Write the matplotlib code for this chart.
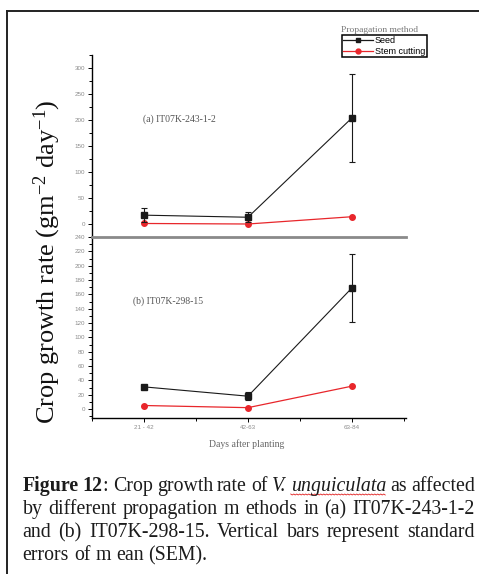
"""Crop growth rate of V. unguiculata by propagation method (Figure 12)."""

import matplotlib

matplotlib.use("Agg")
import matplotlib.pyplot as plt
import numpy as np
from matplotlib.lines import Line2D
from matplotlib.ticker import MultipleLocator

periods = ["21 - 42", "42-63", "63-84"]
methods = ["Seed", "Stem cutting"]

# (a) IT07K-243-1-2
cgr_a_seed = [17, 13, 204]
sem_a_seed = [13, 10, 84]
cgr_a_stem = [1, 0, 14]

# (b) IT07K-298-15
cgr_b_seed = [31, 18, 169]
sem_b_seed = [3, 6, 47]
cgr_b_stem = [5, 2, 32]

caption = [
    "Figure 12: Crop growth rate of V. unguiculata as affected",
    "by different propagation m ethods in (a) IT07K-243-1-2",
    "and (b) IT07K-298-15. Vertical bars represent standard",
    "errors of m ean (SEM).",
]

W, H = 479, 574
SERIF = "Liberation Serif"
SANS = "Liberation Sans"
SEED_C, STEM_C = "#1a1a1a", "#e8262b"
TICK_C = "#8c8c8c"

plt.rcParams.update({
    "font.family": SERIF,
    "mathtext.fontset": "custom",
    "mathtext.rm": SERIF,
    "mathtext.it": SERIF + ":italic",
})

fig = plt.figure(figsize=(W / 100, H / 100), dpi=100)


def fx(px):
    return px / W


def fy(py):
    return 1 - py / H


def panel(rect, seed, sem, stem, ylim, major, minor, tag, tag_xy):
    x0, y_top, x1, y_bot = rect
    ax = fig.add_axes([fx(x0), fy(y_bot), (x1 - x0) / W, (y_bot - y_top) / H])
    x = np.arange(1, len(periods) + 1)
    ax.plot(x, stem, color=STEM_C, lw=0.9, marker="o", ms=4, zorder=2)
    ax.errorbar(x, seed, yerr=sem, color=SEED_C, lw=0.8, marker="s", ms=3.8,
                capsize=2.5, elinewidth=0.8, capthick=0.8, zorder=3)
    ax.set_xlim(0.5, 3.52)
    ax.set_ylim(*ylim)
    ax.yaxis.set_major_locator(MultipleLocator(major))
    ax.yaxis.set_minor_locator(MultipleLocator(minor))
    ax.tick_params(axis="y", which="both", direction="out", width=0.7,
                   labelsize=4.5, labelcolor=TICK_C, pad=2)
    ax.tick_params(axis="y", which="major", length=3)
    ax.tick_params(axis="y", which="minor", length=2)
    for lbl in ax.get_yticklabels():
        lbl.set_family(SANS)
    ax.spines["right"].set_visible(False)
    ax.spines["left"].set_linewidth(1.0)
    ax.patch.set_alpha(0)
    ax.text(*tag_xy, tag, transform=ax.transAxes, fontsize=7, color="#555555",
            va="center", ha="left")
    return ax


ax_a = panel((92, 55, 406, 237), cgr_a_seed, sem_a_seed, cgr_a_stem,
             (-25, 325), 50, 25, "(a) IT07K-243-1-2", (0.162, 0.648))
ax_a.spines["top"].set_visible(False)
ax_a.spines["bottom"].set_visible(False)
ax_a.set_xticks([])

ax_b = panel((92, 237, 406, 417.7), cgr_b_seed, sem_b_seed, cgr_b_stem,
             (-12, 240), 20, 10, "(b) IT07K-298-15", (0.13, 0.642))
ax_b.spines["top"].set_color("#8a8a8a")
ax_b.spines["top"].set_linewidth(2.0)
ax_b.spines["bottom"].set_linewidth(1.0)
ax_b.set_xticks(np.arange(1, len(periods) + 1))
ax_b.set_xticklabels(periods, family=SANS)
ax_b.xaxis.set_minor_locator(MultipleLocator(0.5))
ax_b.tick_params(axis="x", which="both", direction="out", width=0.7,
                 labelsize=4.5, labelcolor=TICK_C, pad=2)
ax_b.tick_params(axis="x", which="major", length=3)
ax_b.tick_params(axis="x", which="minor", length=2)

# shared axis labels
fig.text(fx(47), fy(262), "Crop growth rate (gm$^{-2}$ day$^{-1}$)", rotation=90,
         ha="center", va="center", fontsize=19, color="#111111")
fig.text(fx(247), fy(444), "Days after planting", ha="center", va="center",
         fontsize=7, color="#666666")

# legend with its title sitting above the frame
handles = [
    Line2D([], [], color=SEED_C, lw=0.9, marker="s", ms=3.5),
    Line2D([], [], color=STEM_C, lw=0.9, marker="o", ms=3.5),
]
leg = fig.legend(handles, methods, loc="upper left",
                 bbox_to_anchor=(fx(342), fy(34.5)), fancybox=False,
                 edgecolor="black", framealpha=1, borderpad=0.15,
                 handlelength=3.3, handletextpad=0.2, labelspacing=0.25,
                 borderaxespad=0, prop={"family": SANS, "size": 6.5})
leg.get_frame().set_linewidth(1.1)
fig.text(fx(341), fy(29.5), "Propagation method", ha="left", va="center",
         fontsize=6.8, color="#777777")

# document frame lines
fig.add_artist(Line2D([fx(7), 1], [fy(11), fy(11)], color="#222222", lw=1.4))
fig.add_artist(Line2D([fx(7), fx(7)], [fy(11), 0], color="#222222", lw=1.4))

# justified caption
renderer = fig.canvas.get_renderer()
CAP_SIZE = 14.3
LEFT, RIGHT = 22.5, 475
BASELINES = [491, 514, 537, 560]


def pieces(word):
    if word == "Figure":
        return [(word, "bold", "normal")]
    if word == "12:":
        return [("12", "bold", "normal"), (":", "normal", "normal")]
    if word in ("V.", "unguiculata"):
        return [(word, "normal", "italic")]
    return [(word, "normal", "normal")]


def width(s, weight, style):
    t = fig.text(0, 0, s, fontsize=CAP_SIZE, weight=weight, style=style)
    w = t.get_window_extent(renderer).width
    t.remove()
    return w


space = width("a a", "normal", "normal") - width("aa", "normal", "normal")
squiggle = None
for i, (line, base) in enumerate(zip(caption, BASELINES)):
    words = line.split(" ")
    widths = [sum(width(*p) for p in pieces(w)) for w in words]
    if i < len(caption) - 1:
        gap = max((RIGHT - LEFT - sum(widths)) / (len(words) - 1), 0.6 * space)
    else:
        gap = space
    x = LEFT
    for w, ww in zip(words, widths):
        if w == "unguiculata":
            squiggle = (x, x + ww, base)
        px = x
        for s, weight, style in pieces(w):
            fig.text(fx(px), fy(base), s, fontsize=CAP_SIZE, weight=weight,
                     style=style, va="baseline", ha="left", color="#1c1c1c")
            px += width(s, weight, style)
        x += ww + gap

# spell-check style wavy underline
if squiggle is not None:
    xs = np.arange(squiggle[0], squiggle[1], 1.5)
    ys = squiggle[2] + 3 + np.where(np.arange(len(xs)) % 2 == 0, 0, 1.0)
    fig.add_artist(Line2D(fx(xs), fy(ys), color="#e02020", lw=0.6))

fig.savefig("out.png", dpi=100)
